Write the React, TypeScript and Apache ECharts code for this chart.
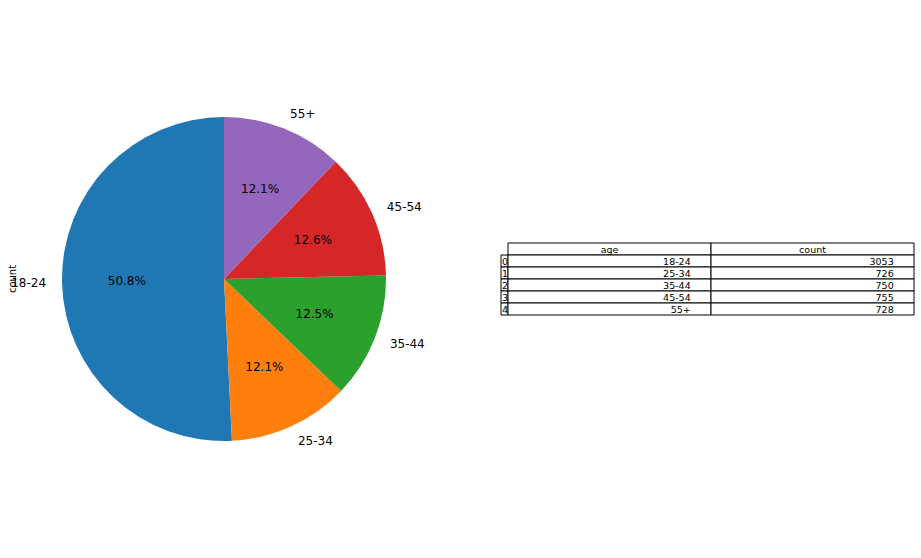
import React, { useEffect, useRef } from "react";
import * as echarts from "echarts";

const categories = ["18-24", "25-34", "35-44", "45-54", "55+"];
const counts = [3053, 726, 750, 755, 728];
const colors = ["#1f77b4", "#ff7f0e", "#2ca02c", "#d62728", "#9467bd"];
const tableHeader = ["age", "count"];
const rowIndex = ["0", "1", "2", "3", "4"];

const FONT = "DejaVu Sans";

export default function App() {
  const ref = useRef<HTMLDivElement>(null);
  useEffect(() => {
    if (!ref.current) return;
    const chart = echarts.init(ref.current, undefined, { renderer: "svg" });
    const total = counts.reduce((a, b) => a + b, 0);
    const data = categories.map((c, i) => ({
      name: c,
      value: counts[i],
      itemStyle: { color: colors[i] },
    }));

    const R = 162;
    const cx = 224;
    const cy = 279;

    // table geometry
    const tLeft = 501;
    const idxW = 7;
    const colW = 203;
    const rowH = 12;
    const tTop = 243;
    const graphics: any[] = [];
    const fs = 9.5;
    // header
    tableHeader.forEach((h, j) => {
      const x = tLeft + idxW + j * colW;
      graphics.push({
        type: "rect",
        shape: { x: x, y: tTop, width: colW, height: rowH },
        style: { fill: "#fff", stroke: "#000", lineWidth: 1 },
      });
      graphics.push({
        type: "text",
        x: x + colW / 2,
        y: tTop + rowH / 2 + 0.5,
        style: {
          text: h,
          align: "center",
          verticalAlign: "middle",
          fontSize: fs,
          fontFamily: FONT,
          fill: "#000",
        },
      });
    });
    categories.forEach((c, i) => {
      const y = tTop + (i + 1) * rowH;
      graphics.push({
        type: "rect",
        shape: { x: tLeft, y, width: idxW, height: rowH },
        style: { fill: "#fff", stroke: "#000", lineWidth: 1 },
      });
      graphics.push({
        type: "text",
        x: tLeft + 1,
        y: y + rowH / 2 + 0.5,
        style: {
          text: rowIndex[i],
          align: "left",
          verticalAlign: "middle",
          fontSize: fs,
          fontFamily: FONT,
          fill: "#000",
        },
      });
      [c, String(counts[i])].forEach((v, j) => {
        const x = tLeft + idxW + j * colW;
        graphics.push({
          type: "rect",
          shape: { x, y, width: colW, height: rowH },
          style: { fill: "#fff", stroke: "#000", lineWidth: 1 },
        });
        graphics.push({
          type: "text",
          x: x + colW - colW * 0.1,
          y: y + rowH / 2 + 0.5,
          style: {
            text: v,
            align: "right",
            verticalAlign: "middle",
            fontSize: fs,
            fontFamily: FONT,
            fill: "#000",
          },
        });
      });
    });
    graphics.push({
      type: "text",
      x: 12,
      y: cy,
      rotation: Math.PI / 2,
      style: {
        text: "count",
        align: "center",
        verticalAlign: "middle",
        fontSize: 10,
        fontFamily: FONT,
        fill: "#000",
      },
    });

    chart.setOption({
      animation: false,
      backgroundColor: "#fff",
      graphic: graphics,
      series: [
        {
          type: "pie",
          center: [cx, cy],
          radius: R,
          startAngle: 90,
          clockwise: false,
          avoidLabelOverlap: false,
          silent: true,
          data,
          itemStyle: { borderWidth: 0 },
          label: {
            show: true,
            position: "outside",
            formatter: "{b}",
            fontSize: 12,
            fontFamily: FONT,
            color: "#000",
            distanceToLabelLine: 0,
          },
          labelLine: { show: false, length: 16, length2: 0 },
          emphasis: { disabled: true },
        },
        {
          type: "pie",
          center: [cx, cy],
          radius: 2 * (0.6 * R - 3),
          startAngle: 90,
          clockwise: false,
          avoidLabelOverlap: false,
          silent: true,
          z: 5,
          data: categories.map((c, i) => ({
            name: c,
            value: counts[i],
            itemStyle: { color: "rgba(0,0,0,0)" },
          })),
          label: {
            show: true,
            position: "inside",
            formatter: (p: any) =>
              ((counts[p.dataIndex] / total) * 100).toFixed(1) + "%",
            fontSize: 12,
            fontFamily: FONT,
            color: "#000",
          },
          labelLine: { show: false },
          emphasis: { disabled: true },
        },
      ],
    });
    return () => chart.dispose();
  }, []);
  return (
    <div
      ref={ref}
      style={{ position: "absolute", left: 0, top: 0, width: 921, height: 558 }}
    />
  );
}
